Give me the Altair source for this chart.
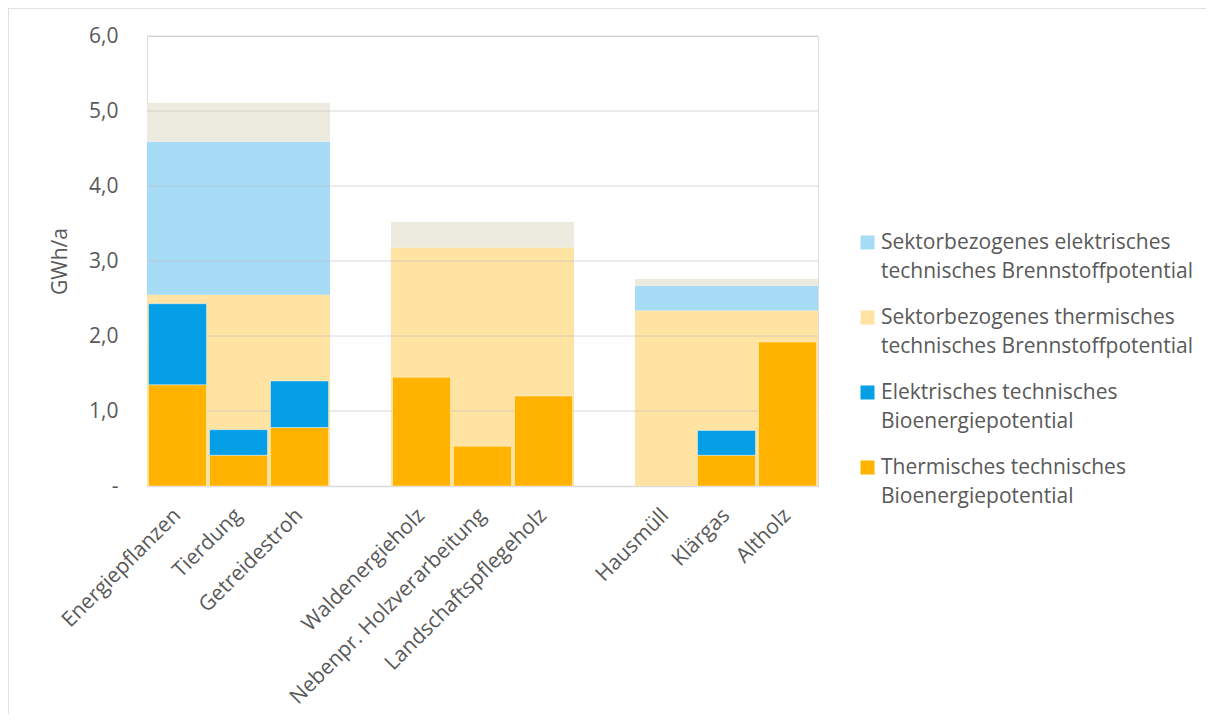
import altair as alt
import pandas as pd

# ---- data ----
categories = ["Energiepflanzen", "Tierdung", "Getreidestroh",
              "Waldenergieholz", "Nebenpr. Holzverarbeitung", "Landschaftspflegeholz",
              "Hausmüll", "Klärgas", "Altholz"]
thermisch = [1.35, 0.41, 0.78, 1.45, 0.53, 1.20, 0.0, 0.41, 1.92]
elektrisch = [1.08, 0.34, 0.62, 0.0, 0.0, 0.0, 0.0, 0.33, 0.0]

group_members = [categories[0:3], categories[3:6], categories[6:9]]
sektor_thermisch = [2.55, 3.18, 2.34]
sektor_elektrisch = [2.04, 0.0, 0.33]
rest = [0.52, 0.34, 0.09]

gap_labels = [" ", "  "]
x_domain = categories[0:3] + [gap_labels[0]] + categories[3:6] + [gap_labels[1]] + categories[6:9]

series = ["Sektorbezogenes elektrisches technisches Brennstoffpotential",
          "Sektorbezogenes thermisches technisches Brennstoffpotential",
          "Elektrisches technisches Bioenergiepotential",
          "Thermisches technisches Bioenergiepotential",
          "Rest"]
series_lines = [["Sektorbezogenes elektrisches", "technisches Brennstoffpotential"],
                ["Sektorbezogenes thermisches", "technisches Brennstoffpotential"],
                ["Elektrisches technisches", "Bioenergiepotential"],
                ["Thermisches technisches", "Bioenergiepotential"]]
colors = ["#A7DCF7", "#FEE3A3", "#049FE6", "#FFB300", "#EDEAE0"]
grid_values = [1, 2, 3, 4, 5, 6]

# ---- tables ----
fg_rows = []
for c, t, e in zip(categories, thermisch, elektrisch):
    fg_rows.append({"Kategorie": c, "Serie": series[3], "Wert": t, "ord": 0})
    fg_rows.append({"Kategorie": c, "Serie": series[2], "Wert": e, "ord": 1})
fg = pd.DataFrame(fg_rows)

bg_rows = []
for members, st, se, r in zip(group_members, sektor_thermisch, sektor_elektrisch, rest):
    for c in members:
        bg_rows.append({"Kategorie": c, "Serie": series[1], "Wert": st, "ord": 0})
        bg_rows.append({"Kategorie": c, "Serie": series[0], "Wert": se, "ord": 1})
        bg_rows.append({"Kategorie": c, "Serie": series[4], "Wert": r, "ord": 2})
bg = pd.DataFrame(bg_rows)
grid = pd.DataFrame({"v": grid_values})

FONT = "Open Sans"
TXT = "#595959"

label_expr = " : ".join(
    f"datum.label == '{s}' ? {lines}" for s, lines in zip(series[:4], series_lines)
) + " : datum.label"

x_enc = alt.X("Kategorie:N", sort=x_domain,
              scale=alt.Scale(domain=x_domain, paddingInner=0, paddingOuter=0),
              axis=alt.Axis(title=None, labelAngle=-45, labelAlign="right",
                            labelBaseline="middle", labelPadding=26, ticks=False,
                            labelFontSize=21, labelColor=TXT, labelFont=FONT,
                            labelOverlap=False, labelLimit=500, labelBound=False,
                            domainColor="#D9D9D9", domainWidth=1.5))
y_scale = alt.Scale(domain=[0, 6], nice=False)
y_axis = alt.Axis(title="GWh/a", values=[0, 1, 2, 3, 4, 5, 6], grid=False,
                  domain=False, ticks=False, labelPadding=29,
                  labelExpr="datum.value == 0 ? '-' : replace(format(datum.value, '.1f'), '.', ',')",
                  labelFontSize=21, labelColor=TXT, labelFont=FONT,
                  titleFontSize=21, titleColor=TXT, titleFont=FONT,
                  titleFontWeight="normal", titlePadding=18)
color_enc = alt.Color("Serie:N",
                      scale=alt.Scale(domain=series, range=colors),
                      legend=alt.Legend(title=None, values=series[:4], orient="none",
                                        legendX=710, legendY=196, symbolType="square",
                                        symbolSize=196, symbolStrokeWidth=0,
                                        labelFontSize=21, labelFont=FONT, labelColor=TXT,
                                        labelLimit=500, labelOffset=3, rowPadding=24,
                                        labelExpr=label_expr))

bg_layer = alt.Chart(bg).mark_bar().encode(
    x=x_enc,
    y=alt.Y("Wert:Q", stack="zero", scale=y_scale, axis=y_axis),
    color=color_enc,
    order=alt.Order("ord:Q"),
)

grid_layer = alt.Chart(grid).mark_rule(color="#BFBFBF", opacity=0.6, strokeWidth=1).encode(
    y=alt.Y("v:Q", scale=y_scale)
)

fg_layer = alt.Chart(fg).transform_filter("datum.Wert > 0").mark_bar(
    width=alt.RelativeBandSize(0.95), stroke="white",
    strokeWidth=0.8, strokeOpacity=0.5).encode(
    x=x_enc,
    y=alt.Y("Wert:Q", stack="zero", scale=y_scale, axis=y_axis),
    color=color_enc,
    order=alt.Order("ord:Q"),
)

border = alt.Chart(pd.DataFrame({"a": [0]})).mark_rect(
    filled=False, stroke="#D9D9D9", strokeWidth=1.5, clip=False
).encode(x=alt.value(-139), x2=alt.value(1200), y=alt.value(-28), y2=alt.value(900))

chart = alt.layer(bg_layer, grid_layer, fg_layer, border).properties(
    width=671, height=450,
    autosize=alt.AutoSizeParams(type="none"),
    padding={"left": 139, "top": 28, "right": 388, "bottom": 228},
).configure_view(stroke=None).configure(
    background="white",
    style={"guide-label": {"lineHeight": 29}},
)

chart.save("out.html", embed_options={"renderer": "svg", "actions": False})
